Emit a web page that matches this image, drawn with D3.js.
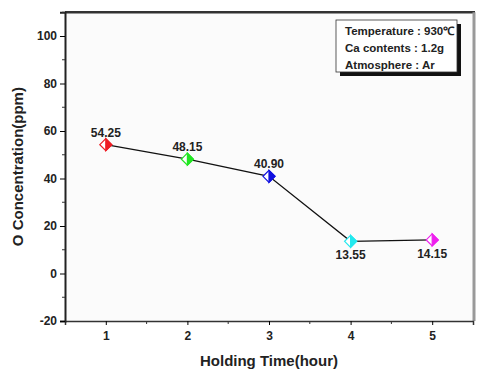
<!DOCTYPE html>
<html>
<head>
<meta charset="utf-8">
<script src="https://cdn.jsdelivr.net/npm/d3@7"></script>
<style>
body { margin: 0; background: #fff; }
text { font-family: Arial, "Liberation Sans", sans-serif; font-weight: bold; }
</style>
</head>
<body>
<div class="chart"></div>
<script>
const hours = [1, 2, 3, 4, 5]
const oxygen = [54.25, 48.15, 40.90, 13.55, 14.15]
const pointLabels = ["54.25", "48.15", "40.90", "13.55", "14.15"]
const labelSide = ["up", "up", "up", "down", "down"]
const colors = ["#ee1c24", "#22e622", "#1010e0", "#22e8ee", "#ee20ee"]
const xTicks = [1, 2, 3, 4, 5]
const yTicks = [-20, 0, 20, 40, 60, 80, 100]
const legendLines = ["Temperature : 930\u2103", "Ca contents : 1.2g", "Atmosphere : Ar"]

const width = 487, height = 376
const margin = {top: 12, right: 14, bottom: 55, left: 65}

const svg = d3.select(".chart").append("svg")
  .attr("width", width).attr("height", height)

const x = d3.scaleLinear().domain([0.5, 5.5]).range([margin.left, width - margin.right])
const y = d3.scaleLinear().domain([-20, 110]).range([321, 321 - 130 * 2.375])

// plot background + frame
svg.append("rect")
  .attr("x", x(0.5)).attr("y", y(110))
  .attr("width", x(5.5) - x(0.5)).attr("height", y(-20) - y(110))
  .attr("fill", "#fbfbfb")

svg.append("line")
  .attr("x1", x(0.5)).attr("x2", x(5.5) + 2)
  .attr("y1", y(110)).attr("y2", y(110))
  .attr("stroke", "#333").attr("stroke-width", 2.5)
svg.append("line")
  .attr("x1", x(5.5) + 1).attr("x2", x(5.5) + 1)
  .attr("y1", y(110)).attr("y2", y(-20))
  .attr("stroke", "#999").attr("stroke-width", 3)

// axes
const xAxis = svg.append("g")
  .attr("transform", `translate(0,${y(-20)})`)
  .call(d3.axisBottom(x).tickValues(xTicks).tickFormat(d3.format("d")).tickSize(4).tickPadding(6))
xAxis.selectAll(".tick text").attr("font-size", 12).attr("fill", "#222")
xAxis.select(".domain").attr("stroke", "#333").attr("stroke-width", 1.5)
xAxis.selectAll(".minor").data([1.5, 2.5, 3.5, 4.5]).enter().append("line")
  .attr("class", "minor")
  .attr("x1", d => x(d)).attr("x2", d => x(d))
  .attr("y1", 0).attr("y2", 3).attr("stroke", "#333")

const yAxis = svg.append("g")
  .attr("transform", `translate(${x(0.5)},0)`)
  .call(d3.axisLeft(y).tickValues(yTicks).tickFormat(d => String(d)).tickSize(5).tickPadding(3))
yAxis.selectAll(".tick text").attr("font-size", 12).attr("fill", "#222")
yAxis.select(".domain").attr("stroke", "#222").attr("stroke-width", 2)
yAxis.selectAll(".minor").data([-10, 10, 30, 50, 70, 90, 110]).enter().append("line")
  .attr("class", "minor")
  .attr("y1", d => y(d)).attr("y2", d => y(d))
  .attr("x1", 0).attr("x2", -3).attr("stroke", "#333")

// axis titles
svg.append("text")
  .attr("x", (x(0.5) + x(5.5)) / 2).attr("y", 366)
  .attr("text-anchor", "middle").attr("font-size", 15).attr("fill", "#222")
  .text("Holding Time(hour)")

svg.append("text")
  .attr("transform", `translate(23,${y(45)}) rotate(-90)`)
  .attr("text-anchor", "middle").attr("font-size", 15).attr("fill", "#222")
  .text("O Concentration(ppm)")

// line
const line = d3.line().x((d, i) => x(hours[i])).y(d => y(d))
svg.append("path")
  .datum(oxygen)
  .attr("d", line)
  .attr("fill", "none").attr("stroke", "#111").attr("stroke-width", 1.3)

// half-filled diamonds
const s = 6
const pts = svg.append("g").selectAll("g").data(oxygen).enter().append("g")
  .attr("transform", (d, i) => `translate(${x(hours[i])},${y(d)})`)
pts.append("path")
  .attr("d", `M0,${-s}L${s},0L0,${s}L${-s},0Z`)
  .attr("fill", "#fff").attr("stroke", (d, i) => colors[i]).attr("stroke-width", 1.2)
pts.append("path")
  .attr("d", `M0,${-s}L${s},0L0,${s}Z`)
  .attr("fill", (d, i) => colors[i]).attr("stroke", (d, i) => colors[i]).attr("stroke-width", 1.2)

// value labels
svg.append("g").selectAll("text").data(oxygen).enter().append("text")
  .attr("x", (d, i) => x(hours[i]))
  .attr("y", (d, i) => labelSide[i] === "up" ? y(d) - 8 : y(d) + 18)
  .attr("text-anchor", "middle").attr("font-size", 12).attr("fill", "#222")
  .text((d, i) => pointLabels[i])

// legend box with shadow
const lg = svg.append("g").attr("transform", "translate(336,20)")
lg.append("rect").attr("x", 4).attr("y", 4).attr("width", 121).attr("height", 52).attr("fill", "#111")
lg.append("rect").attr("x", 0).attr("y", 0).attr("width", 121).attr("height", 52)
  .attr("fill", "#fff").attr("stroke", "#333").attr("stroke-width", 0.8)
lg.selectAll("text").data(legendLines).enter().append("text")
  .attr("x", 9).attr("y", (d, i) => 15 + i * 17)
  .attr("font-size", 11.5).attr("fill", "#222")
  .text(d => d)
</script>
</body>
</html>
